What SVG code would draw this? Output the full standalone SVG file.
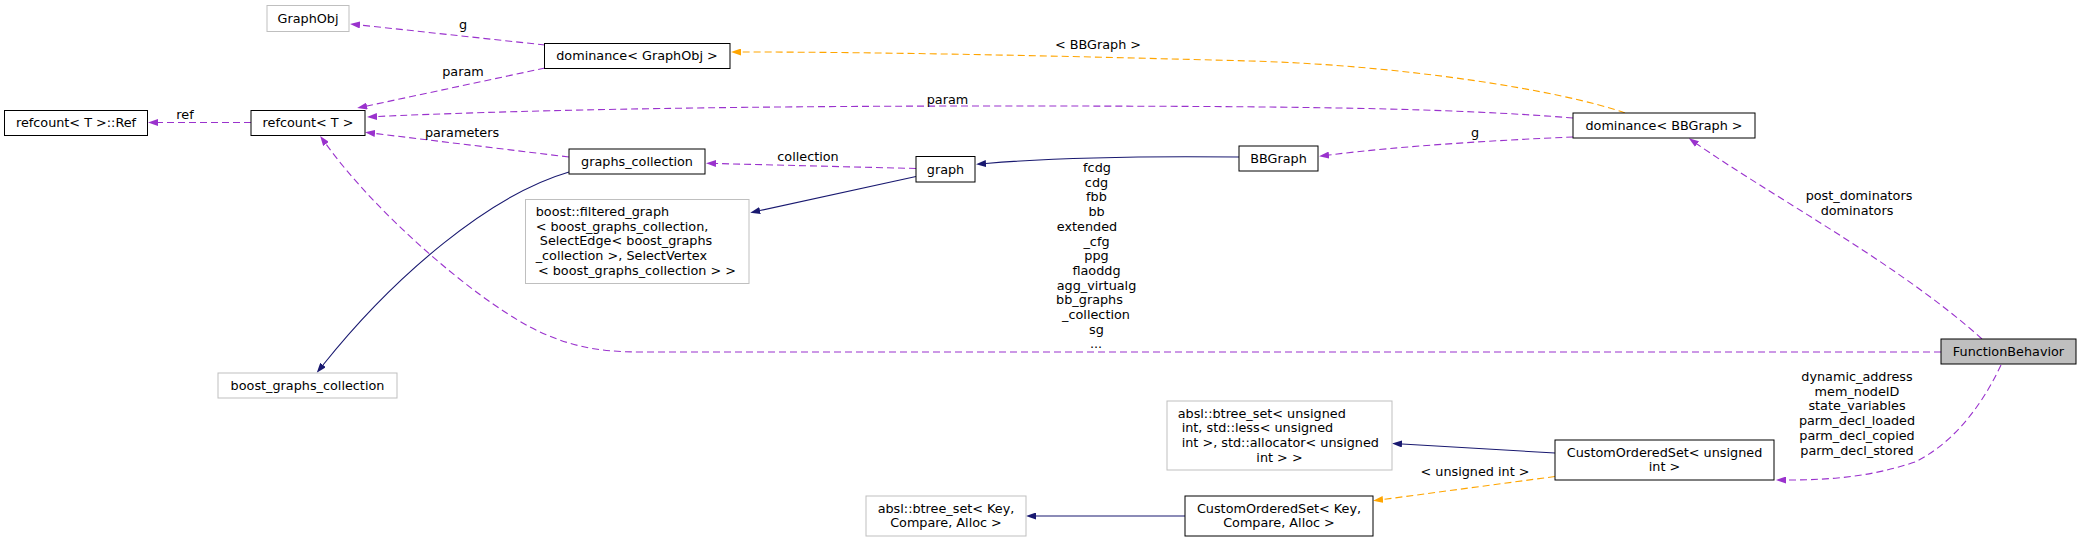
<svg xmlns="http://www.w3.org/2000/svg" width="2081" height="542" viewBox="0 0 2081 542">
<style>
text{font-family:"DejaVu Sans","Liberation Sans",sans-serif;font-size:12.8px;fill:#000}
.m{text-anchor:middle}
.s{text-anchor:start}
.n{fill:#fff;stroke:#000;stroke-width:1}
.x{fill:#fff;stroke:#bfbfbf;stroke-width:1}
.c{fill:#bfbfbf;stroke:#000;stroke-width:1}
.u{fill:none;stroke:#9a32cd;stroke-width:1.1;stroke-dasharray:7,4;marker-end:url(#aU)}
.o{fill:none;stroke:#ffa500;stroke-width:1.1;stroke-dasharray:7,4;marker-end:url(#aO)}
.i{fill:none;stroke:#191970;stroke-width:1.1;marker-end:url(#aI)}
</style>
<defs>
<marker id="aU" markerUnits="userSpaceOnUse" viewBox="0 0 10 7" refX="0" refY="3.5" markerWidth="10" markerHeight="7" orient="auto"><path d="M0,0L10,3.5L0,7z" fill="#9a32cd"/></marker>
<marker id="aO" markerUnits="userSpaceOnUse" viewBox="0 0 10 7" refX="0" refY="3.5" markerWidth="10" markerHeight="7" orient="auto"><path d="M0,0L10,3.5L0,7z" fill="#ffa500"/></marker>
<marker id="aI" markerUnits="userSpaceOnUse" viewBox="0 0 10 7" refX="0" refY="3.5" markerWidth="10" markerHeight="7" orient="auto"><path d="M0,0L10,3.5L0,7z" fill="#191970"/></marker>
</defs>
<rect width="2081" height="542" fill="#fff"/>
<g id="edges">
<path class="u" d="M545,45 L360,25"/>
<text class="m" x="463" y="29">g</text>
<path class="u" d="M545,68 L367,106"/>
<text class="m" x="463" y="76">param</text>
<path class="u" d="M251,122.5 L158,122.5"/>
<text class="m" x="185" y="118.5">ref</text>
<path class="u" d="M569,157 L375,133.5"/>
<text class="m" x="462" y="137">parameters</text>
<path class="u" d="M916,168.5 L716,163.5"/>
<text class="m" x="808" y="161">collection</text>
<path class="i" d="M1239,157 C1150,156 1050,158 986,163.5"/>
<path class="i" d="M916,176.5 L760,210.5"/>
<path class="i" d="M569,172 C490,195 395,275 323,365"/>
<path class="u" d="M1573,137 C1500,140 1400,146 1329,155"/>
<text class="m" x="1475" y="137">g</text>
<path class="u" d="M1573,118 C1450,108 1300,106 1000,106 C700,106 500,111 377,116.5"/>
<text class="m" x="947.5" y="104">param</text>
<path class="o" d="M1625,113 C1560,90 1400,65 1250,61 C1100,57 900,52 741,52"/>
<text class="m" x="1098" y="48.5">&lt; BBGraph &gt;</text>
<path class="u" d="M1982,339 C1900,265 1770,195 1697,144"/>
<text class="m" x="1859" y="200">post_dominators</text>
<text class="m" x="1857" y="215">dominators</text>
<path class="u" d="M1941,352 L640,352 C595,352 565,345 530,327 C470,295 375,212 326,144"/>
<text class="m" x="1097" y="172">fcdg</text>
<text class="m" x="1096.5" y="186.7">cdg</text>
<text class="m" x="1096.5" y="201.4">fbb</text>
<text class="m" x="1096.5" y="216.1">bb</text>
<text class="m" x="1087" y="230.8">extended</text>
<text class="m" x="1096.5" y="245.5">_cfg</text>
<text class="m" x="1096.5" y="260.2">ppg</text>
<text class="m" x="1096.5" y="274.9">flaoddg</text>
<text class="m" x="1096.5" y="289.6">agg_virtualg</text>
<text class="m" x="1089.5" y="304.3">bb_graphs</text>
<text class="m" x="1096" y="319">_collection</text>
<text class="m" x="1096.5" y="333.7">sg</text>
<text class="m" x="1096" y="348.4">...</text>
<path class="u" d="M2001,365 C1980,410 1950,445 1915,462 C1870,477 1830,480 1786,480"/>
<text class="m" x="1857" y="381">dynamic_address</text>
<text class="m" x="1857" y="395.7">mem_nodeID</text>
<text class="m" x="1857" y="410.4">state_variables</text>
<text class="m" x="1857" y="425.1">parm_decl_loaded</text>
<text class="m" x="1857" y="439.8">parm_decl_copied</text>
<text class="m" x="1857" y="454.5">parm_decl_stored</text>
<path class="i" d="M1555,453 L1402,444"/>
<path class="o" d="M1555,476.5 L1383,499.5"/>
<text class="m" x="1475" y="475.5">&lt; unsigned int &gt;</text>
<path class="i" d="M1185,516 L1036,516"/>
</g>
<g id="GraphObj"><rect class="x" x="267" y="5.5" width="82" height="26"/><text class="m" x="308" y="22.5">GraphObj</text></g>
<g id="dominance_GraphObj"><rect class="n" x="544.5" y="43.5" width="185.5" height="25"/><text class="m" x="637" y="60">dominance&lt; GraphObj &gt;</text></g>
<g id="refcount_Ref"><rect class="n" x="4.5" y="110.5" width="143" height="25"/><text class="m" x="76" y="127">refcount&lt; T &gt;::Ref</text></g>
<g id="refcount"><rect class="n" x="251" y="110.5" width="114" height="25"/><text class="m" x="308" y="127">refcount&lt; T &gt;</text></g>
<g id="graphs_collection"><rect class="n" x="569" y="149" width="136" height="25"/><text class="m" x="637" y="166">graphs_collection</text></g>
<g id="graph"><rect class="n" x="916" y="156.5" width="59" height="25.5"/><text class="m" x="945.5" y="173.5">graph</text></g>
<g id="BBGraph"><rect class="n" x="1239" y="146" width="79" height="25"/><text class="m" x="1278.5" y="163">BBGraph</text></g>
<g id="dominance_BBGraph"><rect class="n" x="1573" y="113" width="182" height="25"/><text class="m" x="1664" y="130">dominance&lt; BBGraph &gt;</text></g>
<g id="filtered_graph"><rect class="x" x="525.5" y="199.5" width="223.5" height="84"/>
<text class="s" x="535.7" y="216">boost::filtered_graph</text>
<text class="s" x="535.7" y="230.7">&lt; boost_graphs_collection,</text>
<text class="s" x="539.8" y="245.4">SelectEdge&lt; boost_graphs</text>
<text class="s" x="535.7" y="260.1">_collection &gt;, SelectVertex</text>
<text class="m" x="637" y="274.8">&lt; boost_graphs_collection &gt; &gt;</text></g>
<g id="boost_graphs_collection"><rect class="x" x="218" y="373" width="179" height="25"/><text class="m" x="307.5" y="390">boost_graphs_collection</text></g>
<g id="FunctionBehavior"><rect class="c" x="1941" y="339" width="135" height="25"/><text class="m" x="2008.5" y="356">FunctionBehavior</text></g>
<g id="btree_set_unsigned"><rect class="x" x="1167" y="401" width="225" height="69"/>
<text class="s" x="1177.7" y="417.5">absl::btree_set&lt; unsigned</text>
<text class="s" x="1181.7" y="432.2">int, std::less&lt; unsigned</text>
<text class="s" x="1181.7" y="446.9">int &gt;, std::allocator&lt; unsigned</text>
<text class="m" x="1279.5" y="461.6">int &gt; &gt;</text></g>
<g id="CustomOrderedSet_unsigned"><rect class="n" x="1555" y="440" width="219" height="40"/>
<text class="m" x="1664.5" y="456.6">CustomOrderedSet&lt; unsigned</text>
<text class="m" x="1664.5" y="471.3">int &gt;</text></g>
<g id="btree_set_Key"><rect class="x" x="866" y="496" width="160" height="40"/>
<text class="m" x="946" y="512.6">absl::btree_set&lt; Key,</text>
<text class="m" x="946" y="527.3">Compare, Alloc &gt;</text></g>
<g id="CustomOrderedSet_Key"><rect class="n" x="1185" y="496" width="188" height="40"/>
<text class="m" x="1279" y="512.6">CustomOrderedSet&lt; Key,</text>
<text class="m" x="1279" y="527.3">Compare, Alloc &gt;</text></g>
</svg>
